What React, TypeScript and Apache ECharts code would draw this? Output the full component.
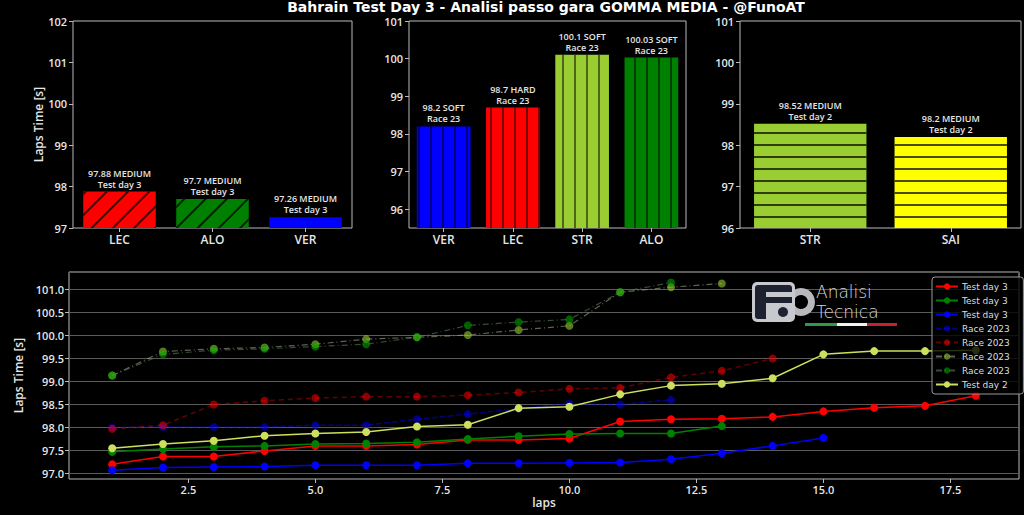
import React, { useEffect, useRef } from 'react';
import * as echarts from 'echarts';

const titleText = 'Bahrain Test Day 3 - Analisi passo gara GOMMA MEDIA - @FunoAT';

// Top-left panel: Test day 3 average lap times
const td3Drivers = ['LEC', 'ALO', 'VER'];
const td3Avg = [97.88, 97.7, 97.26];
const td3Tyre = ['MEDIUM', 'MEDIUM', 'MEDIUM'];
const td3Session = ['Test day 3', 'Test day 3', 'Test day 3'];

// Top-middle panel: Race 2023 averages
const raceDrivers = ['VER', 'LEC', 'STR', 'ALO'];
const raceAvg = [98.2, 98.7, 100.1, 100.03];
const raceTyre = ['SOFT', 'HARD', 'SOFT', 'SOFT'];
const raceSession = ['Race 23', 'Race 23', 'Race 23', 'Race 23'];

// Top-right panel: Test day 2 averages
const td2Drivers = ['STR', 'SAI'];
const td2Avg = [98.52, 98.2];
const td2Tyre = ['MEDIUM', 'MEDIUM'];
const td2Session = ['Test day 2', 'Test day 2'];

// Bottom panel: lap times per lap (lap = index + 1)
const lecTd3 = [97.19, 97.36, 97.36, 97.48, 97.59, 97.59, 97.62, 97.72, 97.72, 97.75, 98.12, 98.17, 98.18, 98.22, 98.34, 98.42, 98.46, 98.68];
const aloTd3 = [97.46, 97.52, 97.57, 97.59, 97.63, 97.64, 97.67, 97.74, 97.8, 97.85, 97.86, 97.86, 98.02];
const verTd3 = [97.06, 97.12, 97.13, 97.14, 97.17, 97.17, 97.17, 97.21, 97.21, 97.22, 97.23, 97.3, 97.43, 97.59, 97.76];
const verRace = [97.99, 98.0, 98.0, 98.0, 98.04, 98.04, 98.17, 98.28, 98.4, 98.51, 98.49, 98.59];
const lecRace = [97.96, 98.04, 98.49, 98.57, 98.63, 98.66, 98.66, 98.69, 98.75, 98.83, 98.85, 99.08, 99.22, 99.49];
const strRace = [99.12, 99.64, 99.7, 99.73, 99.8, 99.91, 99.95, 100.0, 100.11, 100.2, 100.93, 101.04, 101.12];
const aloRace = [99.12, 99.58, 99.67, 99.7, 99.75, 99.8, 99.95, 100.21, 100.28, 100.34, 100.93, 101.14];
const strTd2 = [97.54, 97.63, 97.7, 97.81, 97.86, 97.89, 98.01, 98.05, 98.41, 98.44, 98.71, 98.9, 98.94, 99.06, 99.58, 99.65, 99.65, 99.67];

const FONT = "'Open Sans', 'DejaVu Sans', sans-serif";
const AXIS_COLOR = '#bbbbbb';
const TEXT_COLOR = '#e6e6e6';

const diagDecal = {
  symbol: 'rect', symbolSize: 1, color: 'rgba(0,0,0,0.75)',
  dashArrayX: [1, 0], dashArrayY: [1.2, 13], rotation: -Math.PI / 4,
};
const vertDecal = {
  symbol: 'rect', symbolSize: 1, color: 'rgba(0,0,0,0.5)',
  dashArrayX: [1, 0], dashArrayY: [1.5, 9.3], rotation: Math.PI / 2,
};
const horzDecal = {
  symbol: 'rect', symbolSize: 1, color: 'rgba(0,0,0,0.7)',
  dashArrayX: [1, 0], dashArrayY: [1.5, 9.6], rotation: 0,
};

const barLabel = (tyres: string[], sessions: string[]) => ({
  show: true,
  position: 'top',
  distance: 2,
  color: TEXT_COLOR,
  fontSize: 9,
  lineHeight: 11,
  fontFamily: FONT,
  fontWeight: 600,
  formatter: (p: any) => `${p.value} ${tyres[p.dataIndex]}\n${sessions[p.dataIndex]}`,
});

const catAxis = (gridIndex: number, data: string[]) => ({
  type: 'category',
  gridIndex,
  data,
  axisLine: { show: false },
  axisTick: { show: true, alignWithLabel: true, length: 4, lineStyle: { color: AXIS_COLOR } },
  axisLabel: { color: TEXT_COLOR, fontSize: 12, fontWeight: 600, fontFamily: FONT, margin: 5 },
  splitLine: { show: false },
});

const valAxis = (gridIndex: number, min: number, max: number, extra: any = {}) => ({
  type: 'value',
  gridIndex,
  min,
  max,
  minInterval: 1,
  maxInterval: 1,
  axisLine: { show: false },
  axisTick: { show: true, length: 4, lineStyle: { color: AXIS_COLOR } },
  axisLabel: {
    color: TEXT_COLOR, fontSize: 11, lineHeight: 11, fontWeight: 600, fontFamily: FONT, margin: 6,
    showMinLabel: min % 1 === 0, showMaxLabel: true,
  },
  splitLine: { show: false },
  ...extra,
});

const lineSeries = (name: string, vals: number[], color: string, lineColor: string, type: any, width: number) => ({
  type: 'line',
  name,
  xAxisIndex: 3,
  yAxisIndex: 3,
  data: vals.map((v, i) => [i + 1, v]),
  symbol: 'circle',
  symbolSize: 8,
  itemStyle: { color },
  lineStyle: { color: lineColor, width, type },
  emphasis: { disabled: true },
});

export default function App() {
  const ref = useRef<HTMLDivElement>(null);

  useEffect(() => {
    document.body.style.margin = '0';
    document.body.style.background = '#000';
    const chart = echarts.init(ref.current!, null, { renderer: 'svg' });

    const grid = (left: number, top: number, width: number, height: number) => ({
      left, top, width, height, show: true, borderColor: AXIS_COLOR, borderWidth: 1,
      backgroundColor: 'transparent', containLabel: false,
    });

    chart.setOption({
      animation: false,
      backgroundColor: '#000',
      grid: [
        grid(73, 21, 279, 207),
        grid(409, 21, 277, 207),
        grid(740, 21, 281, 207),
        grid(69, 272, 950, 207),
      ],
      xAxis: [
        catAxis(0, td3Drivers),
        catAxis(1, raceDrivers),
        catAxis(2, td2Drivers),
        {
          type: 'value',
          gridIndex: 3,
          min: 0.15,
          max: 18.85,
          minInterval: 2.5,
          maxInterval: 2.5,
          name: 'laps',
          nameLocation: 'middle',
          nameGap: 17,
          nameTextStyle: { color: TEXT_COLOR, fontSize: 12, fontWeight: 600, fontFamily: FONT },
          axisLine: { show: false },
          axisTick: { show: true, length: 4, lineStyle: { color: AXIS_COLOR } },
          axisLabel: {
            color: TEXT_COLOR, fontSize: 11, fontWeight: 600, fontFamily: FONT, margin: 5,
            showMinLabel: false, showMaxLabel: false,
            formatter: (v: number) => v.toFixed(1),
          },
          splitLine: { show: false },
        },
      ],
      yAxis: [
        valAxis(0, 97, 102, {
          name: 'Laps Time [s]',
          nameLocation: 'middle',
          nameGap: 29,
          nameTextStyle: { color: TEXT_COLOR, fontSize: 12, fontWeight: 600, fontFamily: FONT },
        }),
        valAxis(1, 95.5, 101),
        valAxis(2, 96, 101),
        {
          type: 'value',
          gridIndex: 3,
          min: 96.87,
          max: 101.37,
          minInterval: 0.5,
          maxInterval: 0.5,
          name: 'Laps Time [s]',
          nameLocation: 'middle',
          nameGap: 42,
          nameTextStyle: { color: TEXT_COLOR, fontSize: 12, fontWeight: 600, fontFamily: FONT },
          axisLine: { show: false },
          axisTick: { show: true, length: 4, lineStyle: { color: AXIS_COLOR } },
          axisLabel: {
            color: TEXT_COLOR, fontSize: 11, fontWeight: 600, fontFamily: FONT, margin: 5,
            showMinLabel: false, showMaxLabel: false,
            formatter: (v: number) => v.toFixed(1),
          },
          splitLine: { show: true, lineStyle: { color: '#5a5a5a', width: 1 } },
        },
      ],
      legend: {
        left: 932,
        top: 277,
        orient: 'vertical',
        itemWidth: 22,
        itemHeight: 8,
        itemGap: 3,
        padding: [4, 5, 4, 3],
        backgroundColor: 'rgba(0,0,0,0.8)',
        borderColor: '#999',
        borderWidth: 1,
        borderRadius: 3,
        textStyle: { color: '#dddddd', fontSize: 9, lineHeight: 11, fontFamily: "'DejaVu Sans', sans-serif", padding: [0, 0, 0, -1] },
        selectedMode: false,
        data: ['Test day 3', 'Test day 3 ', 'Test day 3  ', 'Race 2023', 'Race 2023 ', 'Race 2023  ', 'Race 2023   ', 'Test day 2'],
      },
      graphic: [
        {
          type: 'text', z: 100, x: 546, y: 7,
          style: {
            text: titleText, fill: '#ffffff', textAlign: 'center', textVerticalAlign: 'middle',
            font: "bold 14px 'DejaVu Sans', sans-serif",
          },
        },
        { type: 'ring', z: 100, shape: { cx: 801, cy: 302, r: 14, r0: 7 }, style: { fill: '#b9b9bd' } },
        { type: 'rect', z: 100, shape: { x: 752, y: 282, width: 43, height: 40, r: 5 }, style: { fill: '#c8c9ce' } },
        { type: 'rect', z: 100, shape: { x: 755, y: 285, width: 37, height: 34, r: 3 }, style: { fill: '#1e2130' } },
        { type: 'rect', z: 100, shape: { x: 766, y: 292, width: 26, height: 5 }, style: { fill: '#c8c9ce' } },
        { type: 'rect', z: 100, shape: { x: 766, y: 303, width: 8, height: 16 }, style: { fill: '#c8c9ce' } },
        { type: 'rect', z: 100, shape: { x: 774, y: 303, width: 18, height: 16 }, style: { fill: '#c8c9ce' } },
        { type: 'circle', z: 100, shape: { cx: 783, cy: 312, r: 5 }, style: { fill: '#1e2130' } },
        {
          type: 'text', z: 100, x: 816, y: 283,
          style: { text: 'Analisi', fill: '#d8d8d8', font: "200 17px 'DejaVu Sans', sans-serif" },
        },
        {
          type: 'text', z: 100, x: 816, y: 303,
          style: { text: 'Tecnica', fill: '#d8d8d8', font: "200 17px 'DejaVu Sans', sans-serif" },
        },
        { type: 'rect', z: 100, shape: { x: 805, y: 323, width: 32, height: 3 }, style: { fill: '#2f9a49' } },
        { type: 'rect', z: 100, shape: { x: 837, y: 323, width: 30, height: 3 }, style: { fill: '#f0f0f0' } },
        { type: 'rect', z: 100, shape: { x: 867, y: 323, width: 30, height: 3 }, style: { fill: '#c9202f' } },
      ],
      series: [
        {
          type: 'bar', xAxisIndex: 0, yAxisIndex: 0, barCategoryGap: '22%',
          data: td3Avg.map((v, i) => ({
            value: v,
            itemStyle: { color: ['#ff0000', '#008000', '#0000ff'][i], decal: i < 2 ? diagDecal : undefined },
          })),
          label: barLabel(td3Tyre, td3Session),
          emphasis: { disabled: true },
        },
        {
          type: 'bar', xAxisIndex: 1, yAxisIndex: 1, barCategoryGap: '22.5%',
          data: raceAvg.map((v, i) => ({
            value: v,
            itemStyle: { color: ['#0000ff', '#ff0000', '#9acd32', '#008000'][i], decal: vertDecal },
          })),
          label: barLabel(raceTyre, raceSession),
          emphasis: { disabled: true },
        },
        {
          type: 'bar', xAxisIndex: 2, yAxisIndex: 2, barCategoryGap: '20%',
          data: td2Avg.map((v, i) => ({
            value: v,
            itemStyle: { color: ['#9acd32', '#ffff00'][i], decal: horzDecal },
          })),
          label: barLabel(td2Tyre, td2Session),
          emphasis: { disabled: true },
        },
        lineSeries('Test day 3', lecTd3, '#ff0000', '#ff0000', 'solid', 1.5),
        lineSeries('Test day 3 ', aloTd3, '#008000', '#008000', 'solid', 1.5),
        lineSeries('Test day 3  ', verTd3, '#0000ff', '#0000ff', 'solid', 1.5),
        lineSeries('Race 2023', verRace, 'rgba(0,0,255,0.5)', 'rgba(0,0,255,0.5)', [6, 2], 1.5),
        lineSeries('Race 2023 ', lecRace, 'rgba(255,0,0,0.55)', 'rgba(200,0,0,0.5)', [5, 4], 1.5),
        lineSeries('Race 2023  ', strRace, 'rgba(154,205,50,0.6)', 'rgba(170,180,150,0.55)', [6, 3, 1, 3], 1.2),
        lineSeries('Race 2023   ', aloRace, 'rgba(0,160,0,0.6)', 'rgba(90,130,90,0.6)', [6, 3, 1, 3], 1.2),
        lineSeries('Test day 2', strTd2, '#cde05e', '#cde05e', 'solid', 1.5),
      ],
    });

    return () => chart.dispose();
  }, []);

  return (
    <div
      ref={ref}
      style={{ position: 'fixed', left: 0, top: 0, width: 1024, height: 515, background: '#000' }}
    />
  );
}
